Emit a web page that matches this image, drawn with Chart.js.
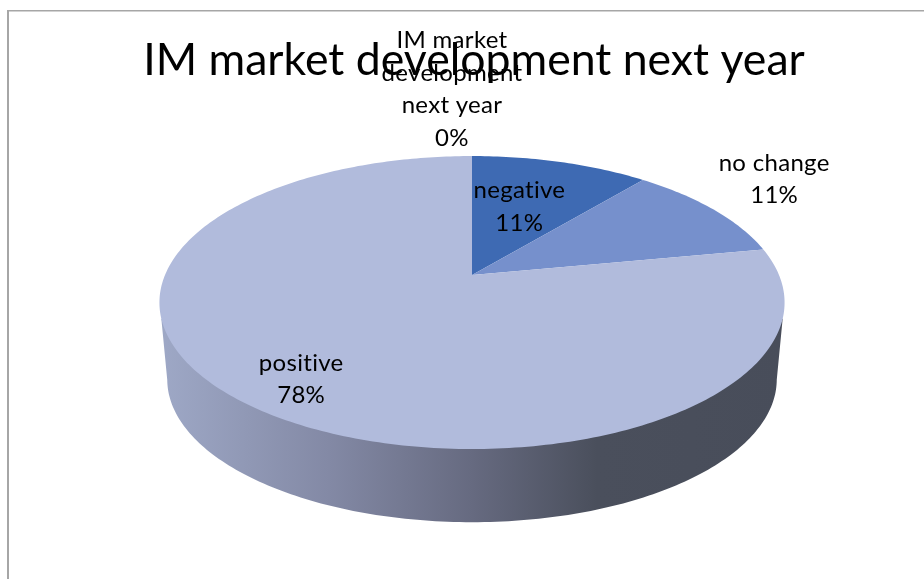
<!DOCTYPE html>
<html>
<head>
<meta charset="utf-8">
<title>IM market development next year</title>
<script src="https://cdn.jsdelivr.net/npm/chart.js@4"></script>
<style>
  html, body { margin: 0; padding: 0; background: #fff; }
  canvas { display: block; }
</style>
</head>
<body>
<canvas id="plot-im-market" width="924" height="579"></canvas>
<script>
const chartTitle = "IM market development next year";
const categories = ["IM market development next year", "negative", "no change", "positive"];
const labelLines = [["IM market", "development", "next year"], ["negative"], ["no change"], ["positive"]];
const shares = [0, 11, 11, 78];
const sliceColors = ["#2f5597", "#3e6ab3", "#7690cc", "#b1bbdc"];
const fontFamily = "Lato, 'Open Sans', sans-serif";

// pie seen from above: apex of the slices, radius and tilt of the disc
const apexX = 472;
const apexY = 275;
const discRadius = 307;
const discDepth = 141.3;
const tilt = 0.188;
// lower rim of the wall
const rimScale = 0.975;
const rimY = 352.5;

function project(angle, radius, scale, originY) {
  const u = Math.sin(angle) * radius;
  const v = -Math.cos(angle) * radius;
  const w = 1 - tilt * v;
  return {
    x: apexX + (discRadius * scale * u) / w,
    y: originY + (discDepth * scale * v) / w,
  };
}

function addArc(ctx, from, to, scale, originY) {
  const steps = Math.max(2, Math.ceil(Math.abs(to - from) * 60));
  for (let i = 0; i <= steps; i++) {
    const p = project(from + ((to - from) * i) / steps, 1, scale, originY);
    ctx.lineTo(p.x, p.y);
  }
}

function drawWall(ctx) {
  const gradient = ctx.createLinearGradient(161, 0, 784, 0);
  gradient.addColorStop(0, "#9ea8c6");
  gradient.addColorStop(0.27, "#8389a5");
  gradient.addColorStop(0.5, "#666a80");
  gradient.addColorStop(0.7, "#4a4f5c");
  gradient.addColorStop(1, "#484d5a");
  const rad = (deg) => (deg * Math.PI) / 180;
  ctx.beginPath();
  addArc(ctx, rad(107), rad(107), 1, apexY);
  addArc(ctx, rad(101), rad(259), rimScale, rimY);
  addArc(ctx, rad(253), rad(253), 1, apexY);
  ctx.closePath();
  ctx.fillStyle = gradient;
  ctx.fill();
}

// where each label's last line sits, relative to the middle of its slice's rim
const labelOffsets = [[-20, -10], [-41, 69], [61, -6], [58, 1]];

const tiltedPie = {
  id: "tiltedPie",
  beforeDraw(chart) {
    const ctx = chart.ctx;
    ctx.save();
    ctx.fillStyle = "#a6a6a6";
    ctx.fillRect(7, 10, 917, 1.5);
    ctx.fillRect(7, 10, 2, 569);
    ctx.restore();
  },
  beforeDatasetsDraw(chart) {
    const ctx = chart.ctx;
    const arcs = chart.getDatasetMeta(0).data;
    ctx.save();
    drawWall(ctx);

    arcs.forEach((arc, i) => {
      const start = arc.startAngle + Math.PI / 2;
      const end = arc.endAngle + Math.PI / 2;
      if (end - start < 1e-6) return;
      ctx.beginPath();
      ctx.moveTo(apexX, apexY);
      addArc(ctx, start, end, 1, apexY);
      ctx.closePath();
      ctx.fillStyle = arc.options.backgroundColor;
      ctx.fill();
    });

    ctx.fillStyle = "#000";
    ctx.textAlign = "center";
    ctx.textBaseline = "alphabetic";
    ctx.font = "24px " + fontFamily;
    ctx.letterSpacing = "0.3px";
    arcs.forEach((arc, i) => {
      const mid = (arc.startAngle + arc.endAngle) / 2 + Math.PI / 2;
      const rim = project(mid, 1, 1, apexY);
      const x = rim.x + labelOffsets[i][0];
      const lastY = rim.y + labelOffsets[i][1];
      const lines = labelLines[i].concat(shares[i] + "%");
      lines.forEach((line, n) => {
        ctx.fillText(line, x, lastY - (lines.length - 1 - n) * 32.7);
      });
    });
    ctx.restore();
    return false;
  },
};

new Chart(document.getElementById("plot-im-market"), {
  type: "pie",
  data: {
    labels: categories,
    datasets: [{ data: shares, backgroundColor: sliceColors, borderWidth: 0 }],
  },
  options: {
    responsive: false,
    animation: false,
    layout: { padding: { left: 24 } },
    plugins: {
      legend: { display: false },
      tooltip: { enabled: false },
      title: {
        display: true,
        text: chartTitle,
        color: "#000",
        font: { family: fontFamily, size: 44.6, weight: "normal" },
        padding: { top: 34, bottom: 0 },
      },
    },
  },
  plugins: [tiltedPie],
});
</script>
</body>
</html>
